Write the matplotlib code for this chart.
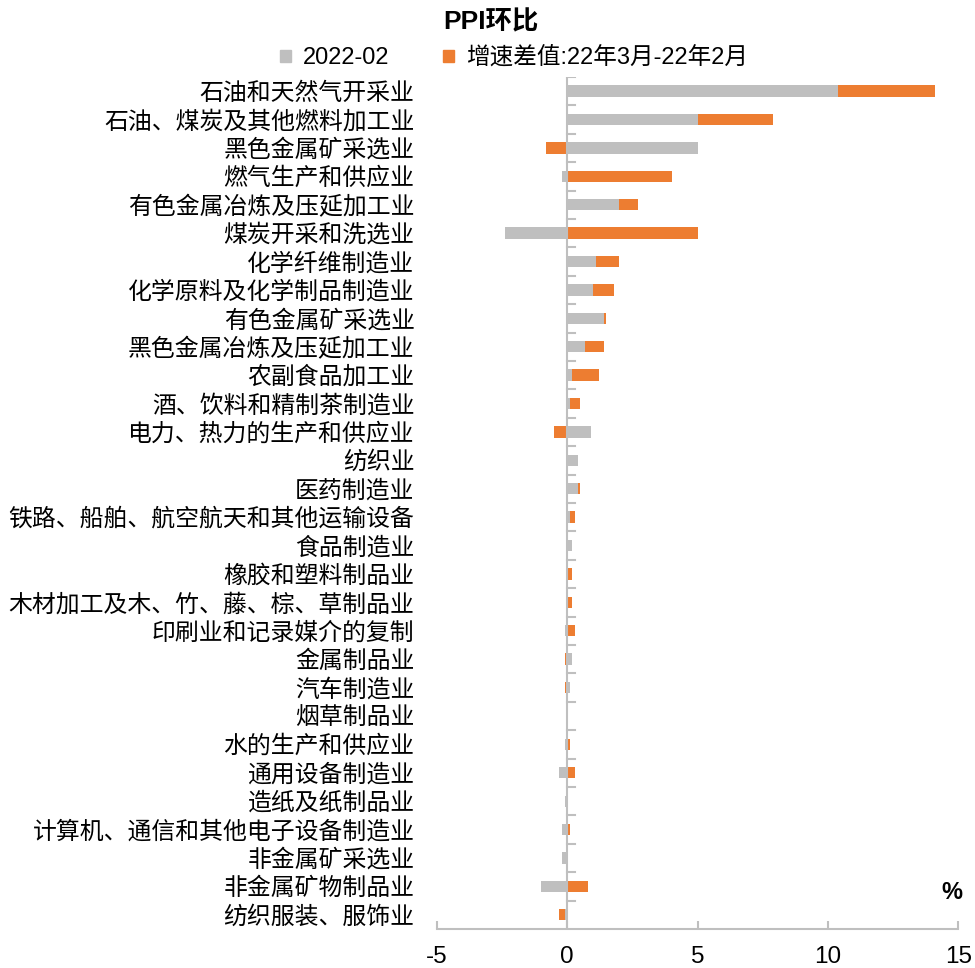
import matplotlib.pyplot as plt
from matplotlib.patches import Patch
import numpy as np

plt.rcParams['font.family'] = ['Liberation Sans', 'Noto Sans CJK SC']
plt.rcParams['axes.unicode_minus'] = False

categories = ['石油和天然气开采业', '石油、煤炭及其他燃料加工业', '黑色金属矿采选业', '燃气生产和供应业',
              '有色金属冶炼及压延加工业', '煤炭开采和洗选业', '化学纤维制造业', '化学原料及化学制品制造业',
              '有色金属矿采选业', '黑色金属冶炼及压延加工业', '农副食品加工业', '酒、饮料和精制茶制造业',
              '电力、热力的生产和供应业', '纺织业', '医药制造业', '铁路、船舶、航空航天和其他运输设备',
              '食品制造业', '橡胶和塑料制品业', '木材加工及木、竹、藤、棕、草制品业', '印刷业和记录媒介的复制',
              '金属制品业', '汽车制造业', '烟草制品业', '水的生产和供应业', '通用设备制造业',
              '造纸及纸制品业', '计算机、通信和其他电子设备制造业', '非金属矿采选业', '非金属矿物制品业',
              '纺织服装、服饰业']
# 2022-02 环比
feb = [10.4, 5.0, 5.0, -0.2, 2.0, -2.4, 1.1, 1.0, 1.4, 0.7, 0.2, 0.1, 0.9, 0.4, 0.4,
       0.1, 0.2, 0.0, 0.0, -0.1, 0.2, 0.1, 0.0, -0.1, -0.3, -0.1, -0.2, -0.2, -1.0, -0.1]
# 增速差值: 22年3月 - 22年2月
diff = [3.7, 2.9, -0.8, 4.0, 0.7, 5.0, 0.9, 0.8, 0.1, 0.7, 1.0, 0.4, -0.5, 0.0, 0.1,
        0.2, 0.0, 0.2, 0.2, 0.3, -0.1, -0.1, 0.0, 0.1, 0.3, 0.0, 0.1, 0.0, 0.8, -0.2]

gray = '#BFBFBF'
orange = '#ED7D31'

feb = np.array(feb)
diff = np.array(diff)
y = np.arange(len(categories))
# stack like excel: same sign stacks on top, opposite sign starts from 0
left = np.where(np.sign(feb) == np.sign(diff), feb, 0)

fig = plt.figure(figsize=(9.75, 9.68), dpi=100)
ax = fig.add_axes([0.448, 0.0403, 0.535, 0.8802])

ax.barh(y, feb, height=0.4, color=gray, zorder=2)
ax.barh(y, diff, left=left, height=0.4, color=orange, zorder=2)

ax.set_xlim(-5, 15)
ax.set_ylim(len(categories) - 0.5, -0.5)
ax.set_xticks([-5, 0, 5, 10, 15])
ax.set_yticks(y)
ax.set_yticklabels(categories, fontsize=17.2)
ax.tick_params(axis='y', length=0, pad=16)
ax.tick_params(axis='x', direction='in', length=6, width=1.5, color=gray, labelsize=17.5, pad=12)

for s in ['top', 'right', 'left']:
    ax.spines[s].set_visible(False)
ax.spines['bottom'].set_color(gray)
ax.spines['bottom'].set_linewidth(1.5)

# vertical zero axis with small ticks between categories
ax.axvline(0, color=gray, lw=1.5, zorder=3)
for b in np.arange(-0.5, len(categories) - 0.5):
    ax.plot([0, 0.3], [b, b], color=gray, lw=1.5, zorder=3)

fig.text(0.503, 0.977, 'PPI环比', fontsize=19, fontweight='bold', ha='center', va='center')
fig.text(0.987, 0.078, '%', fontsize=17, fontweight='bold', ha='right', va='center')

handles = [Patch(color=gray, label='2022-02'), Patch(color=orange, label='增速差值:22年3月-22年2月')]
fig.legend(handles=handles, loc='center', bbox_to_anchor=(0.527, 0.94), ncol=2, frameon=False,
           fontsize=17, handlelength=0.45, handleheight=0.45, handletextpad=0.5, columnspacing=2.3)

fig.savefig('out.png', dpi=100)
